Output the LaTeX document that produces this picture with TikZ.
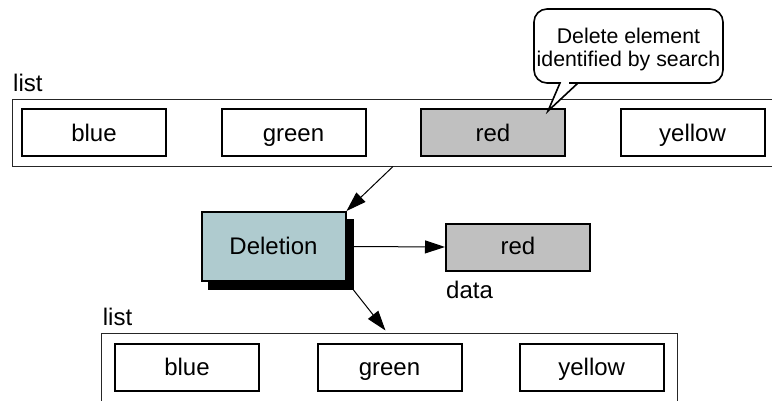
\documentclass[tikz,border=0pt]{standalone}
\usepackage{fontspec}
\setmainfont{Liberation Sans}
\usetikzlibrary{arrows.meta}
\definecolor{delfill}{HTML}{AFCBCF}
\definecolor{graybox}{HTML}{C0C0C0}
\tikzset{
  item/.style={draw=black, line width=2pt, minimum width=144pt, minimum height=47pt,
    inner sep=0pt, font=\fontsize{24}{28}\selectfont, text height=17.5pt, text depth=0pt},
  container/.style={draw=black!85, line width=1pt},
  lbl/.style={font=\fontsize{24}{28}\selectfont, inner sep=0pt, anchor=base west},
  calltext/.style={font=\fontsize{21.3}{25}\selectfont, inner sep=0pt, anchor=base},
  arr/.style={line width=1pt, -{Triangle[length=20pt,width=13pt]}},
}
\begin{document}
\begin{tikzpicture}[x=1pt,y=-1pt]
\useasboundingbox (0,0) rectangle (772,400);
\begin{scope}
\clip (0,0) rectangle (772,400);
% top list
\node[lbl] (list1) at (13,91.7) {list};
\draw[container] (12.5,99) rectangle (790,166.5);
\node[item] (blue1) at (94,132.8) {blue};
\node[item] (green1) at (293.5,132.8) {green};
\node[item, fill=graybox] (red1) at (493,132.8) {red};
\node[item] (yellow1) at (692.5,132.8) {yellow};
% callout
\draw[line width=1.6pt, fill=white, rounded corners=13pt]
  (569,83) -- (723,83) -- (723,9) -- (534,9) -- (534,83) [sharp corners] -- (560,83) -- (548,111) -- (578,83) -- cycle;
\node[calltext] (cl1) at (628.5,43) {Delete element};
\node[calltext] (cl2) at (628.5,66.7) {identified by search};
% deletion
\node[item, fill=black, draw=black, minimum height=69pt] (delsh) at (280.5,254.5) {};
\node[item, fill=delfill, minimum height=69pt, text height=16pt] (del) at (273.5,246.5) {Deletion};
\node[item, fill=graybox, text height=15.5pt] (data) at (518,247) {red};
\node[lbl] (datalbl) at (446,298) {data};
% bottom list
\node[lbl] (list2) at (102.7,325.7) {list};
\draw[container] (101.7,333.3) rectangle (677.3,420);
\node[item] (blue2) at (187,367) {blue};
\node[item] (green2) at (389.5,367) {green};
\node[item] (yellow2) at (591.7,367) {yellow};
% connectors
\coordinate (a1) at (393,166.5);
\coordinate (a3) at (385.5,330.5);
\draw[arr] (a1) -- (del.north east);
\draw[arr] (del.east -| delsh.east) -- (data.west);
\draw[arr] (delsh.south east) -- (a3);
\end{scope}
\end{tikzpicture}
\end{document}
